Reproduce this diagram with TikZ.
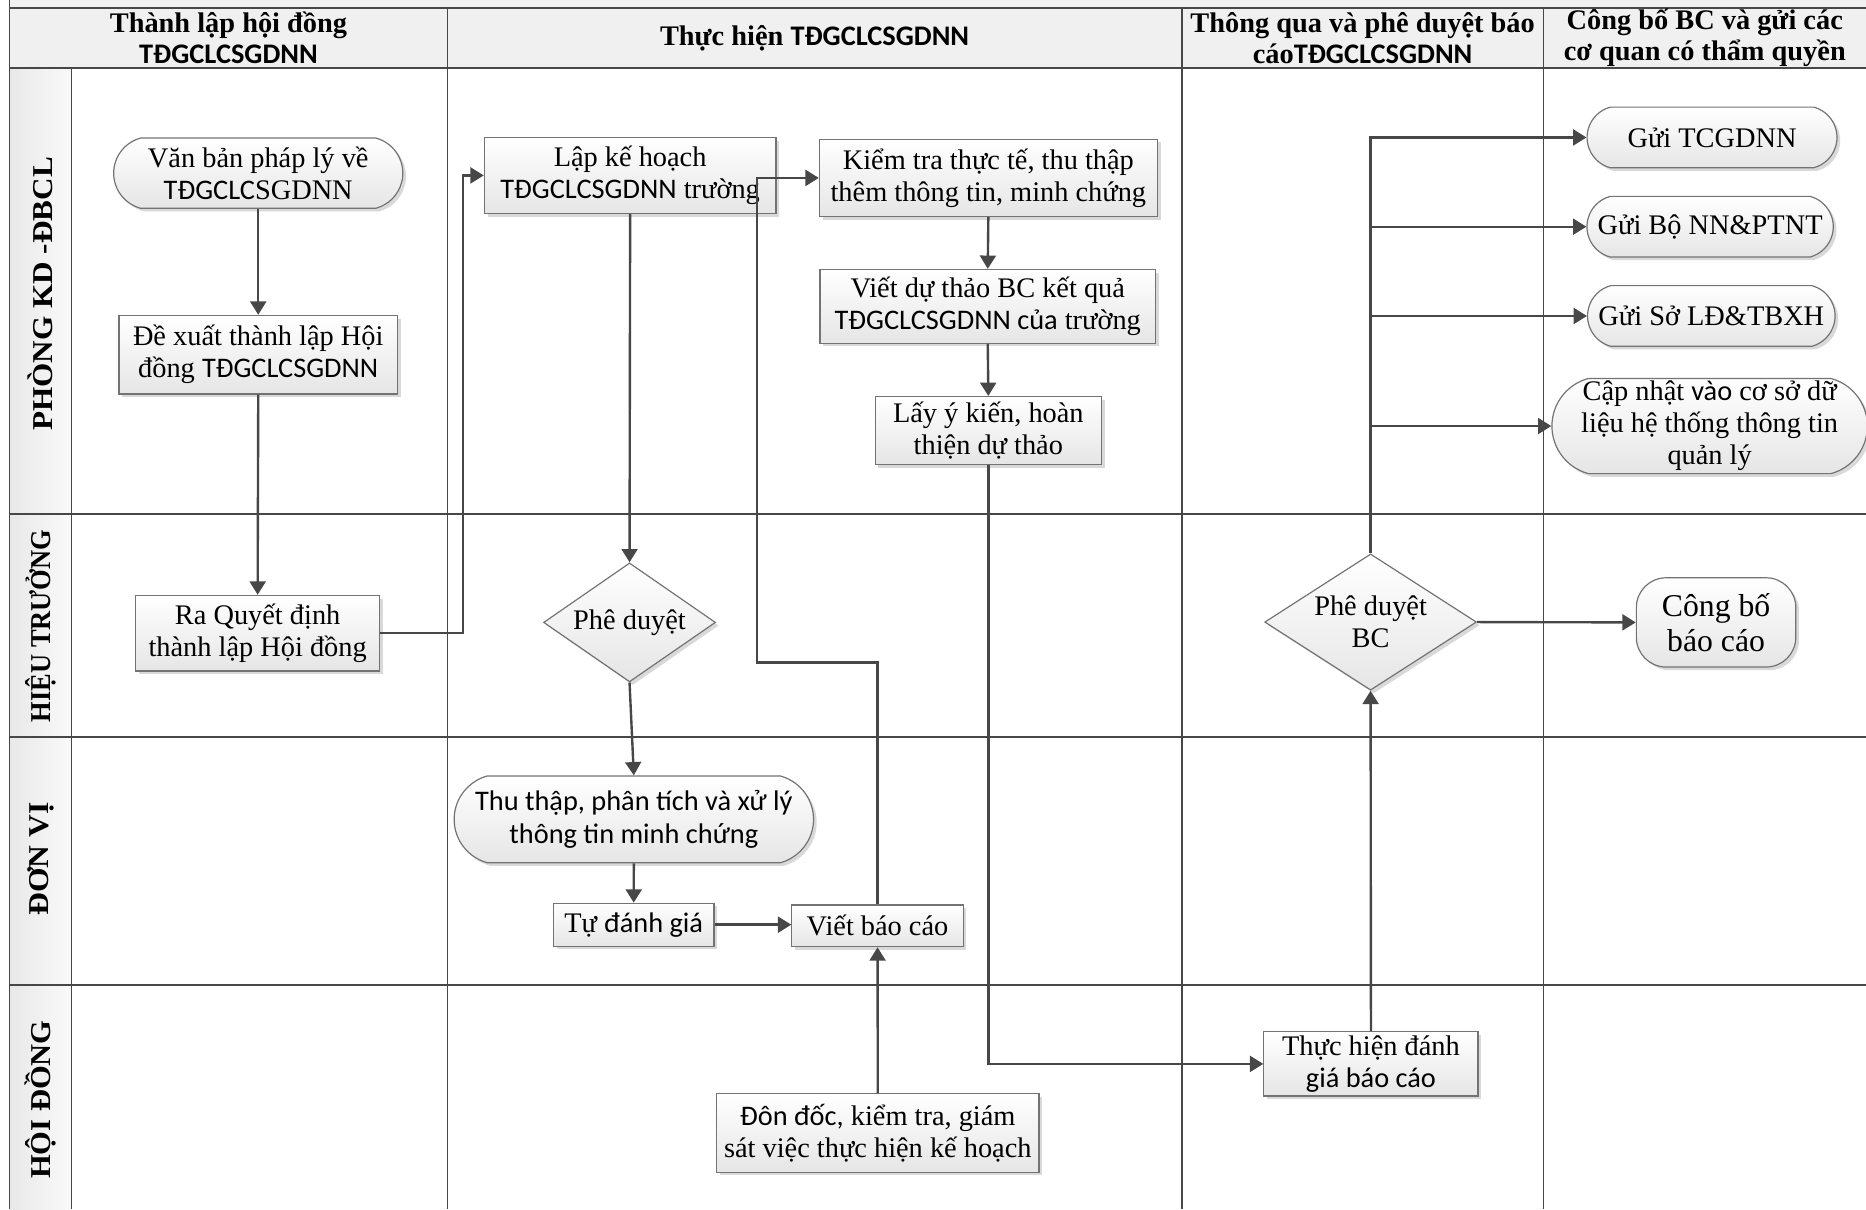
\documentclass[tikz,border=0pt]{standalone}
\usepackage{graphicx}
\usepackage{fontspec}
\setmainfont{Liberation Serif}
\newfontfamily\calib{Carlito}
\usetikzlibrary{arrows.meta,shapes.geometric,shapes.misc,shadows}
\begin{document}
\begin{tikzpicture}[x=0.6pt,y=-0.6pt,
  gridline/.style={draw=black!72, line width=0.9pt},
  conn/.style={draw=black!72, line width=1.2pt, -{Triangle[length=6.7pt,width=8pt]}},
  sz/.style 2 args={minimum width=#1*0.6pt, minimum height=#2*0.6pt},
  boxbase/.style={draw=black!55, line width=0.6pt, top color=white, bottom color=black!10,
    align=center, inner sep=0pt, font=\fontsize{14.3}{16.2}\selectfont,
    drop shadow={shadow xshift=1.6pt, shadow yshift=-1.6pt, fill=black!25, opacity=0.6}},
  procbox/.style={boxbase, rectangle},
  termbox/.style={boxbase, rounded rectangle, rounded rectangle arc length=150},
  decbox/.style={boxbase, diamond},
  hdr/.style={font=\fontsize{14.3}{15.6}\selectfont\bfseries, align=center, inner sep=0pt},
  lanelab/.style={rotate=90, font=\fontsize{14.5}{16}\selectfont\bfseries, inner sep=0pt}
]
\useasboundingbox (0,0) rectangle (1568,1016);
% backgrounds
\fill[black!6] (8,0) rectangle (1568,7);
\fill[black!6] (8,7) rectangle (1568,57);
\shade[left color=black!9, right color=black!2] (8,57) rectangle (60,1016);
% grid
\draw[gridline] (8,0) -- (8,1016);
\draw[gridline] (60,57) -- (60,1016);
\foreach \xx in {376,993,1297} \draw[gridline] (\xx,7) -- (\xx,1016);
\foreach \yy in {7,57,432,619,828} \draw[gridline] (8,\yy) -- (1568,\yy);
% headers
\node[hdr] (h1) at (192,32) {Thành lập hội đồng\\{\calib TĐGCLCSGDNN}};
\node[hdr] (h2) at (684.5,32) {Thực hiện {\calib TĐGCLCSGDNN}};
\node[hdr] (h3) at (1145,32) {Thông qua và phê duyệt báo\\cáo{\calib TĐGCLCSGDNN}};
\node[hdr] (h4) at (1432.5,32) {Công bố BC và gửi các\\cơ quan có thẩm quyền};
% lane labels
\node[lanelab] (l1) at (34,247) {\resizebox{138pt}{\height}{PHÒNG KD -ĐBCL}};
\node[lanelab] (l2) at (34,526) {\resizebox{97pt}{\height}{HIỆU TRƯỞNG}};
\node[lanelab] (l3) at (34,722) {\resizebox{57pt}{\height}{ĐƠN VỊ}};
\node[lanelab] (l4) at (34,924) {\resizebox{80pt}{\height}{HỘI ĐỒNG}};
% nodes
\node[termbox, sz={243}{59}] (n1) at (217,145.5) {Văn bản pháp lý về\\{\calib TĐGCLC}SGDNN};
\node[procbox, sz={234}{66}] (n2) at (217,298) {Đề xuất thành lập Hội\\đồng {\calib TĐGCLCSGDNN}};
\node[procbox, sz={205}{63.5}] (rq) at (216.5,532) {Ra Quyết định\\thành lập Hội đồng};
\node[procbox, sz={245}{64}] (n3) at (529.5,147.4) {Lập kế hoạch\\{\calib TĐGCLCSGDNN} trường};
\node[procbox, sz={284}{65}] (n4) at (830.5,149.5) {Kiểm tra thực tế, thu thập\\thêm thông tin, minh chứng};
\node[procbox, sz={282}{62}] (n5) at (830,257.4) {Viết dự thảo BC kết quả\\{\calib TĐGCLCSGDNN của} trường};
\node[procbox, sz={190}{57}] (n6) at (830.5,361.7) {Lấy ý kiến, hoàn\\thiện dự thảo};
\node[decbox, aspect=1.445, sz={144.5}{100}] (phe) at (529,523) {Phê duyệt};
\node[termbox, sz={302}{73}] (thu) at (532.6,688.5) {\calib Thu thập, phân tích và xử lý\\\calib thông tin minh chứng};
\node[procbox, sz={135}{36}] (tu) at (532.5,777) {Tự {\calib đánh giá}};
\node[procbox, sz={144}{35}] (vbc) at (737.4,778) {Viết báo cáo};
\node[procbox, sz={271}{66}] (dd) at (737.6,952) {{\calib Đôn đốc,} kiểm tra, giám\\sát việc thực hiện kế hoạch};
\node[procbox, sz={180}{54}] (th) at (1152,894) {Thực hiện đánh\\{\calib giá báo cáo}};
\node[decbox, aspect=1.55, sz={178}{114.5}] (pbc) at (1151.7,522.7) {Phê duyệt\\BC};
\node[boxbase, rounded corners=15pt, sz={134}{75}, font=\fontsize{16}{17.4}\selectfont] (cb) at (1442,523) {Công bố\\báo cáo};
\node[termbox, sz={210}{51}] (g1) at (1438.6,115.5) {Gửi TCGDNN};
\node[termbox, sz={207}{51}] (g2) at (1437,190.5) {Gửi Bộ NN\&PTNT};
\node[termbox, sz={208}{51}] (g3) at (1438,265.5) {Gửi Sở LĐ\&TBXH};
\node[termbox, sz={261}{80}] (g4) at (1436.6,358) {Cập nhật {\calib vào} cơ sở dữ\\liệu hệ thống thông tin\\quản lý};
% helper coordinates
\coordinate (c1) at (389,532);
\coordinate (c2) at (636,556.6);
% connectors
\draw[conn] (n1.south) -- (n2.north);
\draw[conn] (n2.south) -- (rq.north);
\draw[conn] (rq.east) -- (rq.east -| c1) -- (c1 |- n3.west) -- (n3.west);
\draw[conn] (n3.south) -- (phe.north);
\draw[conn] (phe.south) -- (thu.north);
\draw[conn] (thu.south) -- (tu.north);
\draw[conn] (tu.east) -- (vbc.west |- tu.east);
\draw[conn] (vbc.north) |- (c2) -- (c2 |- n4.west) -- (n4.west);
\draw[conn] (n4.south) -- (n5.north);
\draw[conn] (n5.south) -- (n6.north);
\draw[conn] (n6.south) |- (th.west);
\draw[conn] (dd.north) -- (vbc.south);
\draw[conn] (th.north) -- (pbc.south);
\draw[conn] (pbc.north) |- (g1.west);
\draw[conn] (pbc.north |- g2.west) -- (g2.west);
\draw[conn] (pbc.north |- g3.west) -- (g3.west);
\draw[conn] (pbc.north |- g4.west) -- (g4.west);
\draw[conn] (pbc.east) -- (cb.west);
\end{tikzpicture}
\end{document}
